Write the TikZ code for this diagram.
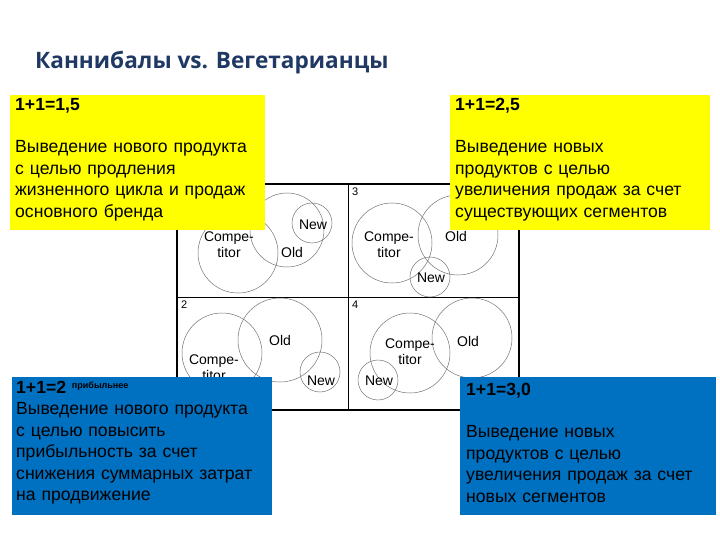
\documentclass[tikz,border=0pt]{standalone}
\usepackage{fontspec}
\setmainfont{Liberation Sans}
\newfontfamily\titlefont{Open Sans}
\definecolor{ttl}{RGB}{31,56,100}
\definecolor{ylw}{RGB}{255,255,0}
\definecolor{blu}{RGB}{0,112,192}
\begin{document}
\begin{tikzpicture}[x=1pt,y=-1pt,
  txt/.style={anchor=north west,inner sep=0pt,align=left,font=\fontsize{17.6}{21.5}\selectfont},
  ybox/.style={fill=ylw,draw=none},
  bbox/.style={fill=blu,draw=none},
  circ/.style={draw=black!55,line width=0.5pt},
  lbl/.style={font=\fontsize{14}{16}\selectfont,align=center,inner sep=0pt},
  num/.style={font=\fontsize{11}{12}\selectfont,anchor=north west,inner sep=0pt}]
\useasboundingbox (0,0) rectangle (720,540);
\node[anchor=west,inner sep=0pt,font=\titlefont\bfseries\fontsize{22.6}{26}\selectfont,text=ttl] (title) at (35,63) {Каннибалы vs. Вегетарианцы};
% grid
\draw[line width=2pt] (177,184) rectangle (519,410);
\draw[line width=0.6pt] (348,184) -- (348,410) (177,297) -- (519,297);
\node[num] (n3) at (352,188) {3};
\node[num] (n2) at (181,301) {2};
\node[num] (n4) at (352,301) {4};
% Q1
\draw[circ] (238,253) circle (40);
\draw[circ] (287,230) circle (37);
\draw[circ] (312,223) circle (20);
\node[lbl] (c1) at (229,245) {Compe-\\titor};
\node[lbl] (o1) at (292,252) {Old};
\node[lbl] (w1) at (313,225) {New};
% Q3
\draw[circ] (392,243) circle (40);
\draw[circ] (458,235) circle (40);
\draw[circ] (430,277) circle (20);
\node[lbl] (c3) at (389,245) {Compe-\\titor};
\node[lbl] (o3) at (456,236) {Old};
\node[lbl] (w3) at (431,278) {New};
% Q2
\draw[circ] (222,353) circle (40);
\draw[circ] (280,340) circle (42);
\draw[circ] (320,372) circle (20);
\node[lbl] (c2) at (214,368) {Compe-\\titor};
\node[lbl] (o2) at (280,340) {Old};
\node[lbl] (w2) at (321,381) {New};
% Q4
\draw[circ] (410,353) circle (40);
\draw[circ] (472,338) circle (40);
\draw[circ] (378,380) circle (20);
\node[lbl] (c4) at (410,352) {Compe-\\titor};
\node[lbl] (o4) at (468,341) {Old};
\node[lbl] (w4) at (379,381) {New};
% boxes
\fill[ybox] (10,95) rectangle (265,230);
\fill[ybox] (450,95) rectangle (710,230);
\fill[bbox] (12,377) rectangle (272,515);
\fill[bbox] (460,377) rectangle (716,515);
\node[txt,text width=250pt] (t1) at (15,98) {\textbf{1+1=1,5}\\[21pt]Выведение нового продукта\\с целью продления\\жизненного цикла и продаж\\основного бренда};
\node[txt,text width=250pt] (t2) at (455,98) {\textbf{1+1=2,5}\\[21pt]Выведение новых\\продуктов с целью\\увеличения продаж за счет\\существующих сегментов};
\node[txt,text width=255pt] (t3) at (16,381) {\textbf{1+1=2} {\raisebox{5pt}{\fontsize{9}{10}\selectfont\bfseries прибыльнее}}\\Выведение нового продукта\\с целью повысить\\прибыльность за счет\\снижения суммарных затрат\\на продвижение};
\node[txt,text width=250pt] (t4) at (466,383) {\textbf{1+1=3,0}\\[21pt]Выведение новых\\продуктов с целью\\увеличения продаж за счет\\новых сегментов};
\end{tikzpicture}
\end{document}
